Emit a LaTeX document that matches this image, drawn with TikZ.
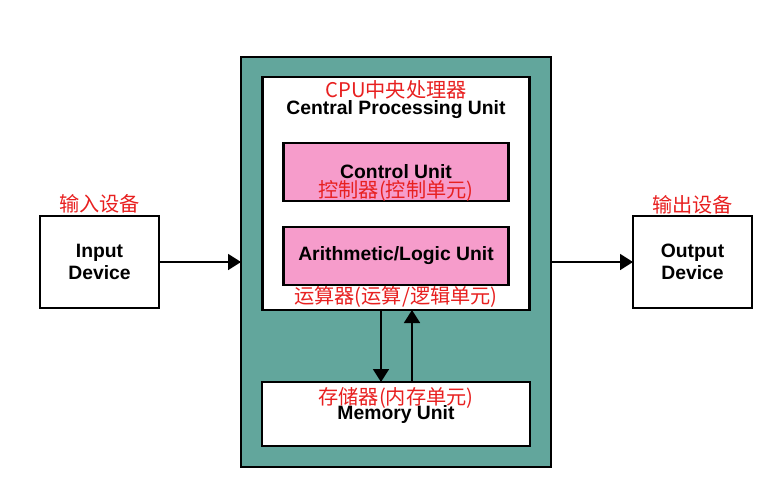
\documentclass[tikz,border=0pt]{standalone}
\usepackage{fontspec}
\setmainfont{Liberation Sans}
\newfontfamily\cjk{Noto Sans CJK SC}
\usetikzlibrary{arrows.meta, positioning}

\begin{document}
\begin{tikzpicture}[
    box/.style={rectangle, draw, line width=1.2pt, inner sep=0pt, outer sep=0pt, font=\fontsize{11}{12.5}\selectfont\bfseries, align=center},
    outerbox/.style={box, line width=1.4pt, fill=cputeal, minimum width=6.2cm, minimum height=8.2cm},
    innerbox/.style={box, fill=white, minimum width=5.34cm, minimum height=4.66cm},
    unitbox/.style={box, fill=unitpink, minimum width=4.5cm, minimum height=1.16cm},
    membox/.style={box, fill=white, minimum width=5.36cm, minimum height=1.28cm},
    devbox/.style={box, fill=white, minimum width=2.38cm, minimum height=1.84cm},
    cnlabel/.style={inner sep=0pt, text=labelred, font=\fontsize{11.5}{12}\cjk},
    entitle/.style={inner sep=0pt, font=\fontsize{11}{12}\selectfont\bfseries},
    arrow/.style={-{Triangle[length=2.6mm, width=3.2mm]}, line width=1pt}]

    % Define colors
    \definecolor{cputeal}{RGB}{98,166,156}
    \definecolor{unitpink}{RGB}{246,156,203}
    \definecolor{labelred}{RGB}{232,32,32}

    \useasboundingbox (0,0) rectangle (15.36,9.8);

    % Nodes
    \node[outerbox] (cpuouter) at (7.92,4.56) {};
    \node[innerbox, below=0.4cm of cpuouter.north] (cpu) {};
    \node[unitbox, below=1.32cm of cpu.north] (cu) {Control Unit};
    \node[unitbox, below=0.52cm of cu] (alu) {Arithmetic/Logic Unit};
    \node[membox, above=0.42cm of cpuouter.south] (mem) {Memory Unit};
    \node[devbox, left=1.64cm of cpuouter] (input) {Input\\Device};
    \node[devbox, right=1.64cm of cpuouter] (output) {Output\\Device};

    % Labels
    \node[cnlabel] (cputitle) at ([yshift=-0.26cm]cpu.north) {CPU中央处理器};
    \node[entitle] (cpuname) at ([yshift=-0.66cm]cpu.north) {Central Processing Unit};
    \node[cnlabel] (culabel) at ([yshift=0.2cm]cu.south) {控制器(控制单元)};
    \node[cnlabel] (alulabel) at ([yshift=-0.24cm]alu.south) {运算器(运算/逻辑单元)};
    \node[cnlabel] (memlabel) at ([yshift=-0.32cm]mem.north) {存储器(内存单元)};
    \node[cnlabel] (inlabel) at ([yshift=0.24cm]input.north) {输入设备};
    \node[cnlabel] (outlabel) at ([yshift=0.22cm]output.north) {输出设备};

    % Arrows
    \draw[arrow] (input) -- (cpuouter);
    \draw[arrow] (cpuouter) -- (output);
    \draw[arrow] ([xshift=-0.3cm]cpu.south) -- ([xshift=-0.3cm]mem.north);
    \draw[arrow] ([xshift=0.32cm]mem.north) -- ([xshift=0.32cm]cpu.south);

\end{tikzpicture}
\end{document}
